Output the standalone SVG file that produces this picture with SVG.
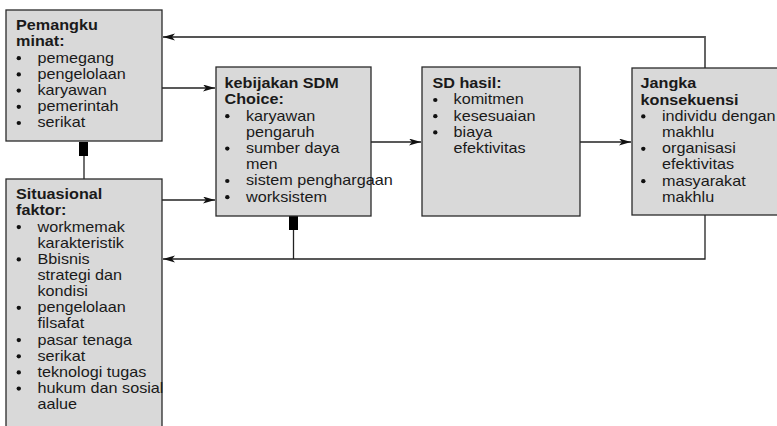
<svg xmlns="http://www.w3.org/2000/svg" width="777" height="426" viewBox="0 0 777 426">
<style>
.box{fill:#d9d9d9;stroke:#2a2a2a;stroke-width:1.3}
.t{font-family:"Liberation Sans",Arial,sans-serif;font-size:14px;fill:#1a1a1a}
.b{font-weight:bold}
.d{fill:#111}
.ln{fill:none;stroke:#222;stroke-width:1.3}
.stub{fill:#000}
</style>
<defs>
<marker id="ah" markerUnits="userSpaceOnUse" markerWidth="14" markerHeight="9" refX="12" refY="3.5" orient="auto">
<path d="M0,0 L12,3.5 L0,7 L3,3.5 z" fill="#111"/>
</marker>
<ellipse id="dot" class="d" cx="0" cy="0" rx="2.2" ry="2.1"/>
</defs>
<rect width="777" height="426" fill="#fff"/>
<g id="connectors">
<line class="ln" x1="162" y1="88" x2="215" y2="88" marker-end="url(#ah)"/>
<line class="ln" x1="162" y1="200" x2="215" y2="200" marker-end="url(#ah)"/>
<line class="ln" x1="371" y1="142" x2="421" y2="142" marker-end="url(#ah)"/>
<line class="ln" x1="580" y1="142" x2="631" y2="142" marker-end="url(#ah)"/>
<polyline class="ln" points="705,68 705,37 163,37" style="stroke:#555;stroke-width:1.8" marker-end="url(#ah)"/>
<polyline class="ln" points="705,215 705,259 163,259" marker-end="url(#ah)"/>
<rect class="stub" x="79" y="142" width="9" height="14"/>
<line class="ln" x1="84" y1="156" x2="84" y2="179"/>
<rect class="stub" x="289" y="216" width="9" height="14"/>
<line class="ln" x1="293.5" y1="230" x2="293.5" y2="259"/>
</g>
<g id="pemangku">
<rect class="box" x="6" y="10" width="156" height="131"/>
<use href="#dot" x="18.8" y="58.2"/>
<use href="#dot" x="18.8" y="74.4"/>
<use href="#dot" x="18.8" y="90.6"/>
<use href="#dot" x="18.8" y="106.8"/>
<use href="#dot" x="18.8" y="123"/>
<g class="t" transform="translate(16 0) scale(1.157 1)">
<text class="b" x="0" y="30.3">Pemangku</text>
<text class="b" x="0" y="46.5">minat:</text>
<text x="18.6" y="62.7">pemegang</text>
<text x="18.6" y="78.9">pengelolaan</text>
<text x="18.6" y="95.1">karyawan</text>
<text x="18.6" y="111.3">pemerintah</text>
<text x="18.6" y="127.5">serikat</text>
</g>
</g>
<g id="situasional">
<rect class="box" x="6" y="179" width="156" height="260"/>
<use href="#dot" x="18.8" y="227.1"/>
<use href="#dot" x="18.8" y="259.4"/>
<use href="#dot" x="18.8" y="307.8"/>
<use href="#dot" x="18.8" y="340.1"/>
<use href="#dot" x="18.8" y="356.3"/>
<use href="#dot" x="18.8" y="372.4"/>
<use href="#dot" x="18.8" y="388.6"/>
<g class="t" transform="translate(16 0) scale(1.157 1)">
<text class="b" x="0" y="199.3">Situasional</text>
<text class="b" x="0" y="215.4">faktor:</text>
<text x="18.6" y="231.6">workmemak</text>
<text x="18.6" y="247.7">karakteristik</text>
<text x="18.6" y="263.9">Bbisnis</text>
<text x="18.6" y="280">strategi dan</text>
<text x="18.6" y="296.2">kondisi</text>
<text x="18.6" y="312.3">pengelolaan</text>
<text x="18.6" y="328.5">filsafat</text>
<text x="18.6" y="344.6">pasar tenaga</text>
<text x="18.6" y="360.8">serikat</text>
<text x="18.6" y="376.9">teknologi tugas</text>
<text x="18.6" y="393.1">hukum dan sosial</text>
<text x="18.6" y="409.2">aalue</text>
</g>
</g>
<g id="kebijakan">
<rect class="box" x="216" y="67" width="155" height="149"/>
<use href="#dot" x="227.3" y="116.2"/>
<use href="#dot" x="227.3" y="148.6"/>
<use href="#dot" x="227.3" y="181"/>
<use href="#dot" x="227.3" y="197.2"/>
<g class="t" transform="translate(224.5 0) scale(1.157 1)">
<text class="b" x="0" y="88.3">kebijakan SDM</text>
<text class="b" x="0" y="104.5">Choice:</text>
<text x="18.6" y="120.7">karyawan</text>
<text x="18.6" y="136.9">pengaruh</text>
<text x="18.6" y="153.1">sumber daya</text>
<text x="18.6" y="169.3">men</text>
<text x="18.6" y="185.5">sistem penghargaan</text>
<text x="18.6" y="201.7">worksistem</text>
</g>
</g>
<g id="sdhasil">
<rect class="box" x="422" y="67" width="158" height="149"/>
<use href="#dot" x="435.3" y="100"/>
<use href="#dot" x="435.3" y="116.2"/>
<use href="#dot" x="435.3" y="132.4"/>
<g class="t" transform="translate(432.5 0) scale(1.157 1)">
<text class="b" x="0" y="88.3">SD hasil:</text>
<text x="18.2" y="104.5">komitmen</text>
<text x="18.2" y="120.7">kesesuaian</text>
<text x="18.2" y="136.9">biaya</text>
<text x="18.2" y="153.1">efektivitas</text>
</g>
</g>
<g id="jangka">
<rect class="box" x="632" y="68" width="160" height="147"/>
<use href="#dot" x="643.3" y="116.4"/>
<use href="#dot" x="643.3" y="148.8"/>
<use href="#dot" x="643.3" y="181.2"/>
<g class="t" transform="translate(640.5 0) scale(1.157 1)">
<text class="b" x="0" y="88.5">Jangka</text>
<text class="b" x="0" y="104.7">konsekuensi</text>
<text x="18.6" y="120.9">individu dengan</text>
<text x="18.6" y="137.1">makhlu</text>
<text x="18.6" y="153.3">organisasi</text>
<text x="18.6" y="169.5">efektivitas</text>
<text x="18.6" y="185.7">masyarakat</text>
<text x="18.6" y="201.9">makhlu</text>
</g>
</g>
</svg>
